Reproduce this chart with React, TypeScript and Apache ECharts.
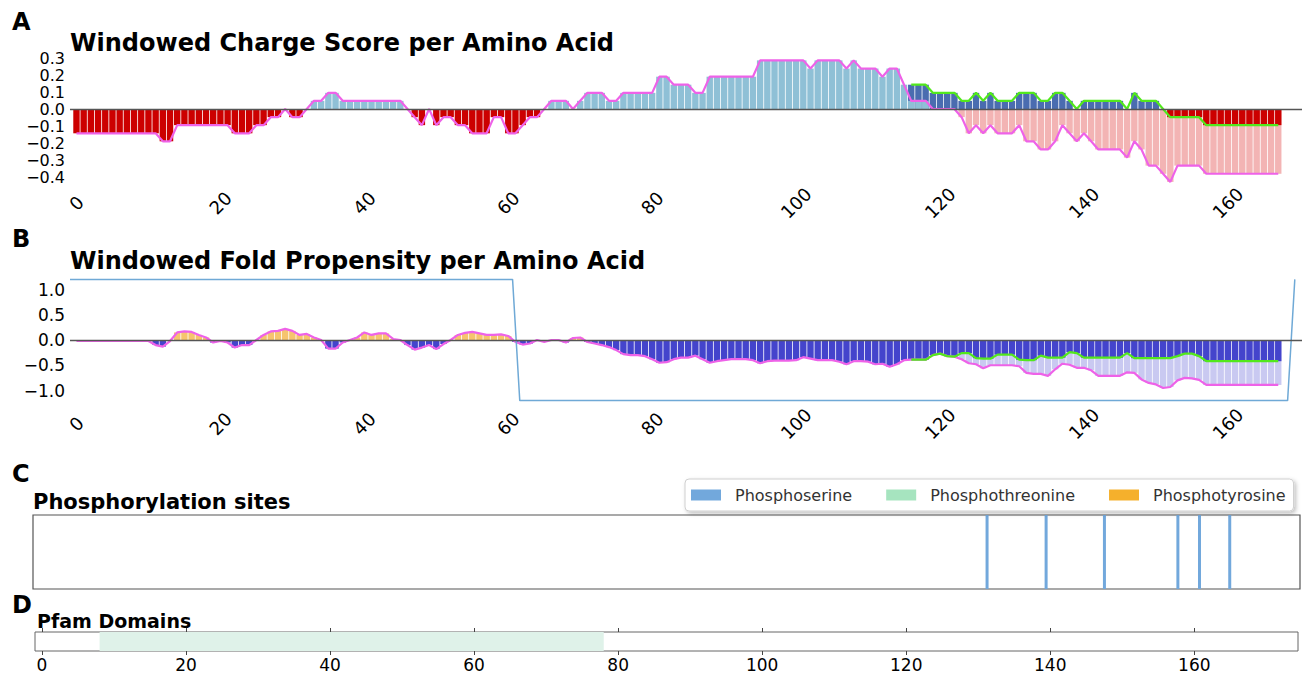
import React, { useEffect, useRef } from "react";
import * as echarts from "echarts";

const FONT = '"DejaVu Sans", sans-serif';

// ---------- data ----------
const xTicks = [0, 20, 40, 60, 80, 100, 120, 140, 160];

// Windowed charge score (base sequence), residues 0..167
const chargeScore: number[] = [
  -0.143, -0.143, -0.143, -0.143, -0.143, -0.143, -0.143, -0.143, -0.143, -0.143,
  -0.143, -0.143, -0.19, -0.19, -0.095, -0.095, -0.095, -0.095, -0.095, -0.095,
  -0.095, -0.095, -0.143, -0.143, -0.143, -0.095, -0.095, -0.048, -0.048, 0,
  -0.048, -0.048, 0, 0.048, 0.048, 0.095, 0.095, 0.048, 0.048, 0.048,
  0.048, 0.048, 0.048, 0.048, 0.048, 0.048, 0, -0.048, -0.095, 0,
  -0.095, -0.048, -0.048, -0.095, -0.095, -0.143, -0.143, -0.143, -0.048, -0.048,
  -0.143, -0.143, -0.095, -0.048, -0.048, 0, 0.048, 0.048, 0.048, 0,
  0.048, 0.095, 0.095, 0.095, 0.048, 0.048, 0.095, 0.095, 0.095, 0.095,
  0.095, 0.19, 0.19, 0.143, 0.143, 0.143, 0.095, 0.095, 0.19, 0.19,
  0.19, 0.19, 0.19, 0.19, 0.19, 0.286, 0.286, 0.286, 0.286, 0.286,
  0.286, 0.286, 0.238, 0.286, 0.286, 0.286, 0.286, 0.238, 0.286, 0.238,
  0.238, 0.238, 0.19, 0.238, 0.238, 0.143, 0.048, 0.048, 0.048, 0,
  0, 0, 0, -0.048, -0.143, -0.095, -0.143, -0.095, -0.143, -0.143,
  -0.143, -0.095, -0.19, -0.19, -0.238, -0.238, -0.19, -0.095, -0.143, -0.19,
  -0.143, -0.19, -0.238, -0.238, -0.238, -0.238, -0.286, -0.19, -0.238, -0.333,
  -0.333, -0.381, -0.429, -0.333, -0.333, -0.333, -0.333, -0.381, -0.381, -0.381,
  -0.381, -0.381, -0.381, -0.381, -0.381, -0.381, -0.381, -0.381,
];

// Windowed charge score with phosphorylation, residues 116..167
const phosphoStart = 116;
const chargeScorePhospho: number[] = [
  0.143, 0.143, 0.143, 0.095, 0.095, 0.095, 0.095, 0.048, 0.048, 0.095,
  0.048, 0.095, 0.048, 0.048, 0.048, 0.095, 0.095, 0.095, 0.048, 0.048,
  0.095, 0.095, 0.048, 0, 0.048, 0.048, 0.048, 0.048, 0.048, 0.048,
  0, 0.095, 0.048, 0.048, 0.048, 0, -0.048, -0.048, -0.048, -0.048,
  -0.048, -0.095, -0.095, -0.095, -0.095, -0.095, -0.095, -0.095, -0.095, -0.095,
  -0.095, -0.095,
];

// Windowed fold propensity (base sequence), residues 0..167
const foldScore: number[] = [
  -0.02, -0.02, -0.02, -0.02, -0.02, -0.02, -0.02, -0.02, -0.02, -0.02,
  -0.02, -0.1, -0.13, -0.02, 0.15, 0.17, 0.16, 0.1, 0.05, -0.05,
  -0.02, -0.05, -0.15, -0.1, -0.1, 0.0, 0.1, 0.17, 0.18, 0.22,
  0.18, 0.1, 0.12, 0.05, 0.0, -0.17, -0.17, -0.05, 0.0, 0.05,
  0.15, 0.1, 0.13, 0.13, 0.02, 0.0, -0.1, -0.19, -0.15, -0.1,
  -0.18, -0.08, 0.0, 0.1, 0.14, 0.16, 0.13, 0.1, 0.1, 0.11,
  0.08, -0.04, -0.09, -0.07, 0.0, -0.04, 0.0, 0.0, -0.05, 0.04,
  0.05, -0.04, -0.07, -0.1, -0.14, -0.2, -0.28, -0.3, -0.3, -0.32,
  -0.38, -0.45, -0.44, -0.38, -0.35, -0.35, -0.31, -0.38, -0.45, -0.42,
  -0.4, -0.38, -0.38, -0.38, -0.4, -0.46, -0.42, -0.41, -0.41, -0.41,
  -0.4, -0.34, -0.37, -0.4, -0.4, -0.4, -0.43, -0.48, -0.42, -0.42,
  -0.43, -0.48, -0.47, -0.53, -0.48, -0.4, -0.39, -0.39, -0.39, -0.3,
  -0.27, -0.32, -0.33, -0.38, -0.46, -0.48, -0.56, -0.5, -0.5, -0.5,
  -0.5, -0.52, -0.65, -0.67, -0.67, -0.71, -0.58, -0.47, -0.49, -0.55,
  -0.55, -0.6, -0.71, -0.71, -0.71, -0.71, -0.64, -0.65, -0.78, -0.85,
  -0.88, -0.95, -0.93, -0.8, -0.75, -0.76, -0.79, -0.89, -0.89, -0.89,
  -0.89, -0.89, -0.89, -0.89, -0.89, -0.89, -0.89, -0.89,
];

// Windowed fold propensity with phosphorylation, residues 116..167
const foldScorePhospho: number[] = [
  -0.39, -0.39, -0.39, -0.3,
  -0.27, -0.32, -0.33, -0.26, -0.26, -0.36, -0.37, -0.37, -0.29, -0.29,
  -0.29, -0.39, -0.4, -0.4, -0.31, -0.35, -0.35, -0.35, -0.24, -0.26,
  -0.35, -0.35, -0.35, -0.35, -0.35, -0.35, -0.26, -0.36, -0.36, -0.36,
  -0.36, -0.36, -0.36, -0.32, -0.27, -0.27, -0.32, -0.42, -0.42, -0.42,
  -0.42, -0.42, -0.42, -0.42, -0.42, -0.42, -0.42, -0.42,
];

// Disorder indicator step line (panel B)
const disorderX = [-0.9, 60.6, 61.6, 168.3, 169.3];
const disorderY = [1.2, 1.2, -1.2, -1.2, 1.2];

// Phosphorylation sites (panel C)
const phosphoserineSites = [131.7, 139.9, 148.0, 158.2, 161.2, 165.4];
const phosphothreonineSites: number[] = [];
const phosphotyrosineSites: number[] = [];

// Pfam domains (panel D)
const pfamStarts = [8];
const pfamEnds = [78];

// ---------- helpers ----------
type Colors = { pos: string; neg: string; shade: string; altPos: string; altNeg: string };

function overlayBars(base: number[], alt: number[], altStart: number, c: Colors) {
  const back: any[] = [];
  const front: any[] = [];
  base.forEach((m, i) => {
    const j = i - altStart;
    const g = j >= 0 && j < alt.length ? alt[j] : null;
    if (g === null) {
      back.push({ value: [i, m], itemStyle: { color: m >= 0 ? c.pos : c.neg } });
      return;
    }
    const mItem = { value: [i, m], itemStyle: { color: m >= 0 ? c.pos : c.shade } };
    const gItem = { value: [i, g], itemStyle: { color: g >= 0 ? c.altPos : c.altNeg } };
    if (Math.abs(g) > Math.abs(m)) {
      back.push(gItem);
      front.push(mItem);
    } else {
      back.push(mItem);
      front.push(gItem);
    }
  });
  return { back, front };
}

const fmt = (v: number) => {
  const r = Math.round(v * 10) / 10;
  if (Math.abs(r) < 1e-9) return "0.0";
  return (r < 0 ? "\u2212" : "") + Math.abs(r).toFixed(1);
};

const MAGENTA = "#ee62e8";
const GREEN = "#52e81c";

function buildOption(): any {
  const a = overlayBars(chargeScore, chargeScorePhospho, phosphoStart, {
    pos: "#8fc0d6",
    neg: "#cc0000",
    shade: "#f3b4b4",
    altPos: "#4a6cb0",
    altNeg: "#cc0000",
  });
  const b = overlayBars(foldScore, foldScorePhospho, phosphoStart, {
    pos: "#f6c46e",
    neg: "#4444cc",
    shade: "#c9c9f1",
    altPos: "#f6c46e",
    altNeg: "#4444cc",
  });

  const seqXAxis = (gridIndex: number, margin: number) => ({
    type: "value",
    gridIndex,
    min: -0.9,
    max: 170.3,
    axisLine: { show: false },
    axisTick: { show: false },
    splitLine: { show: false },
    axisLabel: {
      customValues: xTicks,
      rotate: 45,
      align: "center",
      verticalAlign: "middle",
      margin,
      fontSize: 18,
      color: "#000",
      fontFamily: FONT,
    },
  });

  const seqYAxis = (gridIndex: number, min: number, max: number, interval: number, size: number) => ({
    type: "value",
    gridIndex,
    min,
    max,
    interval,
    axisLine: { show: false },
    axisTick: { show: false },
    splitLine: { show: false },
    axisLabel: {
      showMinLabel: false,
      showMaxLabel: false,
      formatter: fmt,
      fontSize: size,
      lineHeight: size,
      margin: 5,
      color: "#000",
      fontFamily: FONT,
    },
  });

  const zeroLine = {
    silent: true,
    symbol: "none",
    label: { show: false },
    lineStyle: { color: "#555", width: 1.3, type: "solid" },
    data: [{ yAxis: 0 }],
  };

  const text = (t: string, x: number, y: number, size: number) => ({
    type: "text",
    x,
    y,
    silent: true,
    style: {
      text: t,
      font: `bold ${size}px "DejaVu Sans"`,
      fill: "#000",
      textVerticalAlign: "middle",
      verticalAlign: "middle",
    },
  });

  return {
    animation: false,
    backgroundColor: "#fff",
    textStyle: { fontFamily: FONT },
    grid: [
      { left: 70, top: 41, width: 1232, height: 153 },
      { left: 70, top: 264.25, width: 1232, height: 151.5 },
      { left: 33, top: 515, width: 1267, height: 74, show: true, borderColor: "#555", borderWidth: 1.2 },
      { left: 35, top: 632, width: 1263, height: 19, show: true, borderColor: "#666", borderWidth: 1 },
    ],
    xAxis: [
      seqXAxis(0, 9),
      seqXAxis(1, 8),
      { type: "value", gridIndex: 2, min: -1.25, max: 174.7, show: false },
      {
        type: "value",
        gridIndex: 3,
        min: -0.97,
        max: 174.4,
        position: "bottom",
        axisLine: { show: false },
        splitLine: { show: false },
        axisTick: { show: true, customValues: xTicks, length: 4, lineStyle: { color: "#444" } },
        axisLabel: { customValues: xTicks, fontSize: 17, margin: 5, color: "#000", fontFamily: FONT },
      },
      {
        type: "value",
        gridIndex: 3,
        min: -0.97,
        max: 174.4,
        position: "top",
        axisLine: { show: false },
        splitLine: { show: false },
        axisTick: { show: true, customValues: xTicks, length: 4, lineStyle: { color: "#444" } },
        axisLabel: { show: false },
      },
    ],
    yAxis: [
      seqYAxis(0, -0.5, 0.4, 0.1, 16),
      seqYAxis(1, -1.5, 1.5, 0.5, 17),
      { type: "value", gridIndex: 2, min: 0, max: 1, show: false },
      { type: "value", gridIndex: 3, min: 0, max: 1, show: false },
    ],
    legend: {
      data: ["Phosphoserine", "Phosphothreonine", "Phosphotyrosine"],
      left: 685,
      top: 479,
      icon: "rect",
      itemWidth: 30,
      itemHeight: 11,
      itemGap: 34,
      selectedMode: false,
      textStyle: { fontSize: 16, color: "#333", fontFamily: FONT, padding: [0, 0, 0, 9] },
      borderColor: "#cfcfcf",
      borderWidth: 1,
      borderRadius: 4,
      padding: [8, 8, 8, 6],
      backgroundColor: "#fff",
      shadowBlur: 4,
      shadowColor: "rgba(0,0,0,0.25)",
      shadowOffsetX: 2,
      shadowOffsetY: 2,
    },
    series: [
      // Panel A
      { type: "bar", xAxisIndex: 0, yAxisIndex: 0, data: a.back, barWidth: 6.4, barGap: "-100%", silent: true },
      { type: "bar", xAxisIndex: 0, yAxisIndex: 0, data: a.front, barWidth: 6.4, barGap: "-100%", silent: true },
      {
        type: "line",
        xAxisIndex: 0,
        yAxisIndex: 0,
        data: chargeScore.map((v, i) => [i, v]),
        symbol: "none",
        silent: true,
        lineStyle: { color: MAGENTA, width: 2.2 },
        markLine: zeroLine,
      },
      {
        type: "line",
        xAxisIndex: 0,
        yAxisIndex: 0,
        data: chargeScorePhospho.map((v, j) => [phosphoStart + j, v]),
        symbol: "none",
        silent: true,
        lineStyle: { color: GREEN, width: 2.2 },
      },
      // Panel B
      { type: "bar", xAxisIndex: 1, yAxisIndex: 1, data: b.back, barWidth: 6.4, barGap: "-100%", silent: true },
      { type: "bar", xAxisIndex: 1, yAxisIndex: 1, data: b.front, barWidth: 6.4, barGap: "-100%", silent: true },
      {
        type: "line",
        xAxisIndex: 1,
        yAxisIndex: 1,
        data: foldScore.map((v, i) => [i, v]),
        symbol: "none",
        silent: true,
        lineStyle: { color: MAGENTA, width: 2.2 },
        markLine: zeroLine,
      },
      {
        type: "line",
        xAxisIndex: 1,
        yAxisIndex: 1,
        data: foldScorePhospho.map((v, j) => [phosphoStart + j, v]),
        symbol: "none",
        silent: true,
        lineStyle: { color: GREEN, width: 2.2 },
      },
      {
        type: "line",
        xAxisIndex: 1,
        yAxisIndex: 1,
        data: disorderX.map((x, k) => [x, disorderY[k]]),
        symbol: "none",
        silent: true,
        lineStyle: { color: "#6fa9d6", width: 1.5 },
      },
      // Panel C
      {
        name: "Phosphoserine",
        type: "bar",
        xAxisIndex: 2,
        yAxisIndex: 2,
        data: phosphoserineSites.map((x) => [x, 1]),
        barWidth: 3,
        itemStyle: { color: "#72a8dc" },
        silent: true,
      },
      {
        name: "Phosphothreonine",
        type: "bar",
        xAxisIndex: 2,
        yAxisIndex: 2,
        data: phosphothreonineSites.map((x) => [x, 1]),
        barWidth: 3,
        itemStyle: { color: "#a6e4bf" },
        silent: true,
      },
      {
        name: "Phosphotyrosine",
        type: "bar",
        xAxisIndex: 2,
        yAxisIndex: 2,
        data: phosphotyrosineSites.map((x) => [x, 1]),
        barWidth: 3,
        itemStyle: { color: "#f5b02c" },
        silent: true,
      },
      // Panel D
      {
        type: "custom",
        xAxisIndex: 3,
        yAxisIndex: 3,
        silent: true,
        encode: { x: [0, 1] },
        data: pfamStarts.map((s, k) => [s, pfamEnds[k]]),
        renderItem: (_p: any, api: any) => {
          const p0 = api.coord([api.value(0), 1]);
          const p1 = api.coord([api.value(1), 0]);
          return {
            type: "rect",
            shape: { x: p0[0], y: p0[1], width: p1[0] - p0[0], height: p1[1] - p0[1] },
            style: { fill: "#dff2e9" },
          };
        },
      },
    ],
    graphic: [
      text("A", 12, 22, 24),
      text("Windowed Charge Score per Amino Acid", 70, 43, 24),
      text("B", 12, 239, 24),
      text("Windowed Fold Propensity per Amino Acid", 70, 261, 24),
      text("C", 12, 474, 24),
      text("Phosphorylation sites", 33, 502, 21),
      text("D", 12, 605, 24),
      text("Pfam Domains", 37, 621, 19),
    ],
  };
}

export default function App() {
  const ref = useRef<HTMLDivElement>(null);
  useEffect(() => {
    document.body.style.margin = "0";
    const chart = echarts.init(ref.current as HTMLDivElement, null, { renderer: "svg" });
    chart.setOption(buildOption());
    return () => chart.dispose();
  }, []);
  return <div ref={ref} style={{ width: 1304, height: 676 }} />;
}
